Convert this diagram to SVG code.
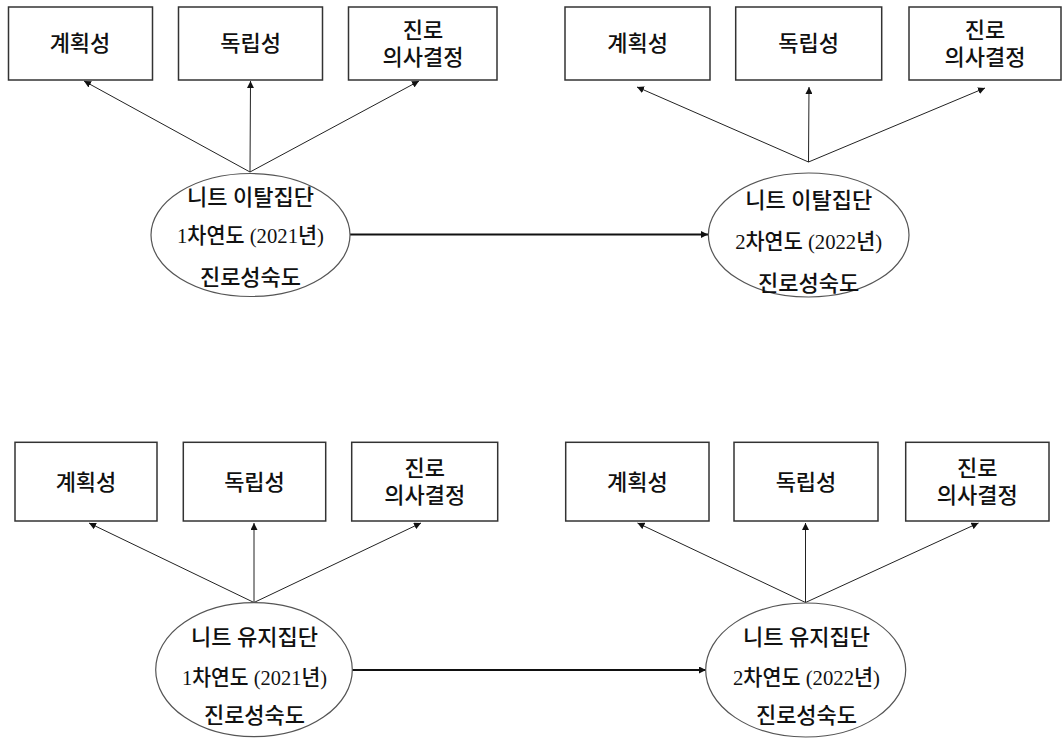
<svg xmlns="http://www.w3.org/2000/svg" width="1064" height="739" viewBox="0 0 1064 739">
<style>
.box{fill:#fff;stroke:#333;stroke-width:1.5}
.ell{fill:#fff;stroke:#555;stroke-width:1.2}
.t{font-family:"Liberation Serif","Noto Sans CJK KR",serif;font-size:22px;font-weight:500;fill:#111;text-anchor:middle}
.ln{stroke:#222;stroke-width:1;fill:none;marker-end:url(#ah)}
.hl{stroke:#111;stroke-width:1.8;fill:none;marker-end:url(#ah2)}
</style>
<defs>
<marker id="ah" viewBox="0 0 10 10" refX="10" refY="5" markerWidth="7" markerHeight="7" markerUnits="userSpaceOnUse" orient="auto"><path d="M0,0 L10,5 L0,10 z" fill="#111"/></marker>
<marker id="ah2" viewBox="0 0 10 10" refX="10" refY="5" markerWidth="7" markerHeight="7" markerUnits="userSpaceOnUse" orient="auto"><path d="M0,0 L10,5 L0,10 z" fill="#111"/></marker>
</defs>
<rect width="1064" height="739" fill="#fff"/>
<g id="connectors">
<line class="ln" x1="250" y1="172" x2="84" y2="81"/>
<line class="ln" x1="250" y1="172" x2="250.5" y2="81"/>
<line class="ln" x1="250" y1="172" x2="419" y2="81"/>
<line class="ln" x1="808.5" y1="162" x2="637" y2="87"/>
<line class="ln" x1="808.5" y1="162" x2="809" y2="87"/>
<line class="ln" x1="808.5" y1="162" x2="985" y2="88"/>
<line class="ln" x1="254" y1="602.5" x2="89" y2="523"/>
<line class="ln" x1="254" y1="602.5" x2="254" y2="523"/>
<line class="ln" x1="254" y1="602.5" x2="421" y2="523"/>
<line class="ln" x1="805.5" y1="602.5" x2="637.5" y2="523"/>
<line class="ln" x1="805.5" y1="602.5" x2="805.5" y2="523"/>
<line class="ln" x1="805.5" y1="602.5" x2="978.5" y2="523"/>
<line class="hl" x1="350" y1="234.5" x2="708" y2="234.5"/>
<line class="hl" x1="352" y1="670" x2="706" y2="670"/>
</g>
<g id="tl-plan"><rect class="box" x="8.5" y="7" width="144" height="73"/><text class="t" x="80" y="51">계획성</text></g>
<g id="tl-indep"><rect class="box" x="178.5" y="7" width="144" height="73"/><text class="t" x="250.7" y="51">독립성</text></g>
<g id="tl-dec"><rect class="box" x="348.5" y="7" width="148.5" height="73"/><text class="t" x="423" y="38">진로</text><text class="t" x="423" y="65">의사결정</text></g>
<g id="tl-ell"><ellipse class="ell" cx="250.5" cy="235" rx="99.5" ry="61.5"/><text class="t" x="250.5" y="205">니트 이탈집단</text><text class="t" x="250.5" y="243" textLength="147" lengthAdjust="spacingAndGlyphs">1차연도 (2021년)</text><text class="t" x="250.5" y="285">진로성숙도</text></g>
<g id="tr-plan"><rect class="box" x="565" y="7" width="145" height="73"/><text class="t" x="637.7" y="51">계획성</text></g>
<g id="tr-indep"><rect class="box" x="735.7" y="7" width="146" height="73"/><text class="t" x="808.7" y="51">독립성</text></g>
<g id="tr-dec"><rect class="box" x="909" y="7" width="152" height="73"/><text class="t" x="985" y="38">진로</text><text class="t" x="985" y="65">의사결정</text></g>
<g id="tr-ell"><ellipse class="ell" cx="808.7" cy="235" rx="100.3" ry="62"/><text class="t" x="808.7" y="208">니트 이탈집단</text><text class="t" x="808.7" y="249" textLength="147" lengthAdjust="spacingAndGlyphs">2차연도 (2022년)</text><text class="t" x="808.7" y="291">진로성숙도</text></g>
<g id="bl-plan"><rect class="box" x="15" y="442.3" width="142" height="78.7"/><text class="t" x="86" y="489.5">계획성</text></g>
<g id="bl-indep"><rect class="box" x="183.3" y="442.3" width="142.4" height="78.7"/><text class="t" x="254.5" y="489.5">독립성</text></g>
<g id="bl-dec"><rect class="box" x="351.7" y="442.3" width="146" height="78.7"/><text class="t" x="424.7" y="476">진로</text><text class="t" x="424.7" y="503">의사결정</text></g>
<g id="bl-ell"><ellipse class="ell" cx="254" cy="669.7" rx="98.3" ry="67"/><text class="t" x="254.5" y="645">니트 유지집단</text><text class="t" x="254.5" y="685" textLength="145" lengthAdjust="spacingAndGlyphs">1차연도 (2021년)</text><text class="t" x="254.5" y="723">진로성숙도</text></g>
<g id="br-plan"><rect class="box" x="565.7" y="442.3" width="143.3" height="78.7"/><text class="t" x="637.3" y="489.5">계획성</text></g>
<g id="br-indep"><rect class="box" x="734" y="442.3" width="144" height="78.7"/><text class="t" x="806" y="489.5">독립성</text></g>
<g id="br-dec"><rect class="box" x="905.7" y="442.3" width="143.3" height="78.7"/><text class="t" x="977.3" y="476">진로</text><text class="t" x="977.3" y="503">의사결정</text></g>
<g id="br-ell"><ellipse class="ell" cx="805.7" cy="670" rx="100" ry="67"/><text class="t" x="806.5" y="645">니트 유지집단</text><text class="t" x="806.5" y="685" textLength="147" lengthAdjust="spacingAndGlyphs">2차연도 (2022년)</text><text class="t" x="806.5" y="723">진로성숙도</text></g>
</svg>
